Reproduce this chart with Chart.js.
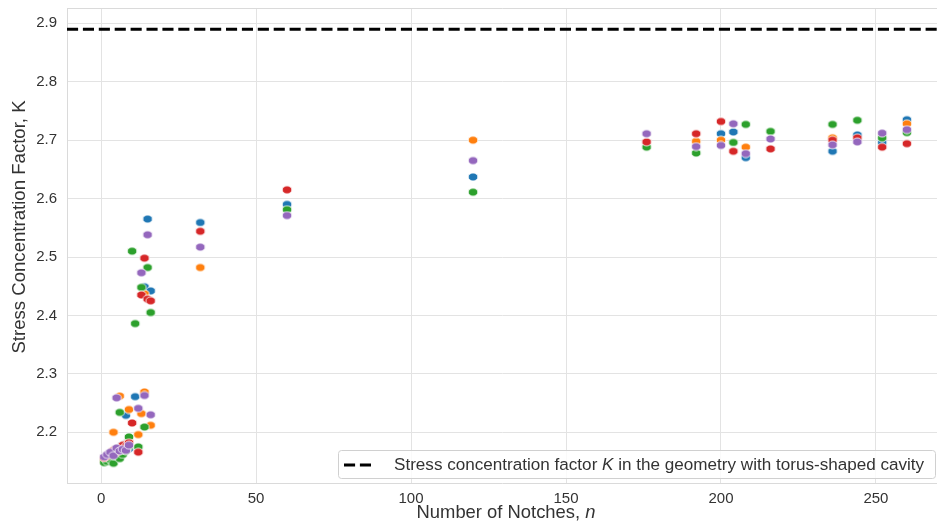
<!DOCTYPE html>
<html>
<head>
<meta charset="utf-8">
<script src="https://cdn.jsdelivr.net/npm/chart.js@4.4.1/dist/chart.umd.min.js"></script>
<style>
  html,body{margin:0;padding:0;background:#fff;}
  #wrap{width:937px;height:524px;}
</style>
</head>
<body>
<div id="wrap"><canvas id="c" width="937" height="524" style="width:937px;height:524px"></canvas></div>
<script>
// ---------- data ----------
const xTicks = [0, 50, 100, 150, 200, 250];
const yTicks = [2.2, 2.3, 2.4, 2.5, 2.6, 2.7, 2.8, 2.9];
const refK = 2.89; // torus-shaped cavity
const xMin = -11, xMax = 269.7, yMin = 2.1132, yMax = 2.9262;

const nBlue = [1,2,3,4,5,6,7,8,9, 8,11, 14,15,16, 32,60,120, 200,204,208,236,244,252,260];
const kBlue = [2.152,2.158,2.163,2.166,2.170,2.174,2.178,2.181,2.172, 2.229,2.261, 2.449,2.565,2.442, 2.559,2.590,2.637, 2.711,2.714,2.670,2.681,2.709,2.696,2.735];

const nOrange = [1,2,3,4,5,6,7,8,9, 4,6,9,12,13,14,16, 14, 32,120, 192,200,208,236,260];
const kOrange = [2.150,2.155,2.161,2.168,2.172,2.170,2.176,2.180,2.184, 2.200,2.262,2.239,2.196,2.232,2.269,2.212, 2.437, 2.482,2.700, 2.698,2.700,2.688,2.704,2.728];

const nGreen = [1,2,3,4,5,6,7,8,9, 6,9,12,14, 10,11,13,15,16, 60,120, 176,192,204,208,216,236,244,252,260];
const kGreen = [2.148,2.150,2.153,2.147,2.160,2.155,2.162,2.168,2.176, 2.234,2.192,2.175,2.209, 2.510,2.386,2.448,2.482,2.405, 2.581,2.611, 2.688,2.678,2.696,2.727,2.715,2.727,2.734,2.704,2.713];

const nRed = [1,2,3,4,5,6,7,8,9, 10,12, 13,14,15,16, 32,60, 176,192,200,204,216,236,244,252,260];
const kRed = [2.156,2.160,2.164,2.169,2.166,2.173,2.178,2.176,2.182, 2.216,2.166, 2.435,2.498,2.428,2.425, 2.544,2.615, 2.697,2.711,2.732,2.681,2.685,2.700,2.704,2.688,2.694];

const nPurple = [1,2,3,4,5,6,7,8,9, 5,12,14,16, 13,15, 32,60,120, 176,192,200,204,208,216,236,244,252,260];
const kPurple = [2.158,2.162,2.166,2.160,2.173,2.168,2.171,2.169,2.178, 2.259,2.241,2.263,2.230, 2.473,2.538, 2.517,2.571,2.665, 2.711,2.689,2.691,2.728,2.677,2.702,2.692,2.697,2.712,2.718];

const seriesColors = ['#1f77b4','#ff7f0e','#2ca02c','#d62728','#9467bd'];
const legendLabel = [{t:'Stress concentration factor '},{t:'K',it:true},{t:' in the geometry with torus-shaped cavity'}];
const xTitle = [{t:'Number of Notches, '},{t:'n',it:true}];
const yTitle = [{t:'Stress Concentration Factor, '},{t:'K',it:false}];

// ---------- helpers ----------
const FONT = '"Liberation Sans", Arial, Helvetica, sans-serif';
function pts(xs, ys){ return xs.map((x,i)=>({x:x, y:ys[i]})); }
function makeDot(color){
  const c = document.createElement('canvas');
  c.width = 12; c.height = 10;
  const g = c.getContext('2d');
  g.beginPath();
  g.ellipse(6, 5, 4.8, 4.0, 0, 0, Math.PI*2);
  g.fillStyle = color; g.fill();
  g.lineWidth = 0.8; g.strokeStyle = '#ffffff'; g.stroke();
  return c;
}
function runsWidth(ctx, runs, size){
  let w = 0;
  runs.forEach(r=>{ ctx.font = (r.it?'italic ':'') + size + 'px ' + FONT; r.w = ctx.measureText(r.t).width; w += r.w; });
  return w;
}
function drawRuns(ctx, runs, x, y, size, align){
  const total = runsWidth(ctx, runs, size);
  let cx = align === 'center' ? x - total/2 : x;
  ctx.textBaseline = 'middle'; ctx.textAlign = 'left';
  runs.forEach(r=>{ ctx.font = (r.it?'italic ':'') + size + 'px ' + FONT; ctx.fillText(r.t, cx, y); cx += r.w; });
  return total;
}

const deco = {
  id: 'deco',
  beforeDatasetsDraw(chart){
    const {ctx, chartArea:a} = chart;
    ctx.save();
    ctx.strokeStyle = '#dadada'; ctx.lineWidth = 1;
    ctx.beginPath();
    ctx.moveTo(a.left+0.5, a.bottom-0.5); ctx.lineTo(a.left+0.5, a.top+0.5); ctx.lineTo(a.right, a.top+0.5);
    ctx.stroke();
    ctx.restore();
  },
  afterDraw(chart){
    const {ctx} = chart;
    ctx.save();
    // legend box
    const bx = 338.5, by = 450.5, bw = 597, bh = 28;
    ctx.beginPath();
    if (ctx.roundRect) ctx.roundRect(bx, by, bw, bh, 3); else ctx.rect(bx, by, bw, bh);
    ctx.fillStyle = 'rgba(255,255,255,0.8)'; ctx.fill();
    ctx.strokeStyle = '#d0d0d0'; ctx.lineWidth = 1; ctx.stroke();
    ctx.beginPath();
    ctx.setLineDash([11.1, 4.8]);
    ctx.strokeStyle = '#000'; ctx.lineWidth = 3;
    ctx.moveTo(344, 465); ctx.lineTo(372, 465); ctx.stroke();
    ctx.setLineDash([]);
    ctx.fillStyle = '#333';
    drawRuns(ctx, legendLabel, 394, 465, 17.1, 'left');
    // axis titles
    drawRuns(ctx, xTitle, 506, 513, 18.4, 'center');
    ctx.translate(20, 227); ctx.rotate(-Math.PI/2);
    drawRuns(ctx, yTitle, 0, 0, 18.6, 'center');
    ctx.restore();
  }
};

const common = { showLine:false, pointRadius:5, pointHoverRadius:5 };
const names = ['A','B','C','D','E'];
const xsAll = [nBlue,nOrange,nGreen,nRed,nPurple];
const ysAll = [kBlue,kOrange,kGreen,kRed,kPurple];
const datasets = xsAll.map((xs,i)=>Object.assign({
  label: names[i], type:'scatter', data: pts(xs, ysAll[i]),
  pointStyle: makeDot(seriesColors[i]), backgroundColor: seriesColors[i], borderColor:'#fff',
  order: 5 - i + 1
}, common));
datasets.push({
  label:'ref', type:'line', data:[{x:xMin,y:refK},{x:xMax,y:refK}],
  borderColor:'#000', borderWidth:3, borderDash:[11.1,4.8], pointRadius:0, order:0, fill:false
});

new Chart(document.getElementById('c'), {
  type:'scatter',
  data:{ datasets },
  options:{
    responsive:false, animation:false, devicePixelRatio:1,
    events:[],
    layout:{ autoPadding:false, padding:{ top:8, right:0, left:0, bottom:0 } },
    plugins:{ legend:{display:false}, tooltip:{enabled:false} },
    scales:{
      x:{
        type:'linear', min:xMin, max:xMax,
        afterBuildTicks(s){ s.ticks = xTicks.map(v=>({value:v})); },
        afterFit(s){ s.height = 41; s.paddingLeft = 0; s.paddingRight = 0; },
        grid:{ color:'#e3e3e3', lineWidth:1, drawTicks:false },
        border:{ display:true, color:'#dadada' },
        ticks:{ padding:7, color:'#333', font:{ family:FONT, size:15 }, maxRotation:0, callback:v=>String(v) }
      },
      y:{
        type:'linear', min:yMin, max:yMax,
        afterBuildTicks(s){ s.ticks = yTicks.map(v=>({value:v})); },
        afterFit(s){ s.width = 67; s.paddingTop = 0; s.paddingBottom = 0; },
        grid:{ color:'#e3e3e3', lineWidth:1, drawTicks:false },
        border:{ display:true, color:'#dadada' },
        ticks:{ padding:10, color:'#333', font:{ family:FONT, size:15 }, callback:v=>Number(v).toFixed(1) }
      }
    }
  },
  plugins:[deco]
});
</script>
</body>
</html>
